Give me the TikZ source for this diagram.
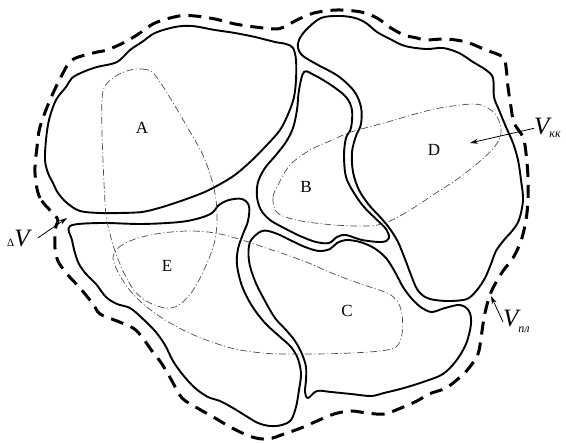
\documentclass[tikz,border=0pt]{standalone}
\usepackage{fontspec}
\setmainfont{Liberation Serif}
\usetikzlibrary{arrows.meta}
\begin{document}
\begin{tikzpicture}[x=1pt,y=-1pt,
  grain/.style={line width=1.9pt,line join=round},
  shell/.style={line width=3pt,dash pattern=on 13pt off 8pt},
  core/.style={line width=0.7pt,black!70,dash pattern=on 7pt off 2.5pt on 1pt off 2.5pt},
  lbl/.style={font=\fontsize{17}{20}\selectfont,inner sep=0pt},
  vlbl/.style={anchor=base west,inner sep=0pt},
  pin/.style={line width=0.8pt,-{Stealth[length=8pt,width=5pt]}}]
\useasboundingbox (0,0) rectangle (566,443);

\draw[shell] plot[smooth cycle,tension=0.55] coordinates {
  (57,218) (40,198) (35,173) (37,147) (40,127) (50,100) (62,75) (72,60) (93,53)
  (107,50) (123,43) (137,35) (155,23) (179,16) (195,16) (215,19) (235,24) (255,27)
  (275,29) (284,27) (297,20) (314,13) (337,10) (361,12) (377,18) (391,28) (404,35)
  (417,38) (426,40) (446,39) (466,42) (486,50) (503,57) (506,67) (508,87) (511,107)
  (514,123) (523,137) (526,153) (528,177) (528,200) (526,220) (521,241) (513,258)
  (503,271) (493,288) (488,301) (484,318) (481,338) (478,354) (469,368) (459,378)
  (446,388) (429,394) (417,401) (401,408) (384,414) (367,413) (351,411) (334,414)
  (317,421) (301,428) (284,434) (268,439) (252,437) (232,428) (215,418) (199,409)
  (182,398) (172,381) (162,364) (152,351) (142,337) (133,328) (117,321) (100,314)
  (93,304) (80,288) (67,274) (58,261) (55,248) (55,236) (56,226)};

\draw[grain] plot[smooth cycle,tension=0.55] coordinates {
  (142,42) (155,33) (175,27) (192,26) (215,30) (235,33) (255,37) (275,42) (286,44)
  (293,48) (296,60) (296,80) (294,97) (289,112) (280,130) (265,147) (249,163)
  (232,177) (209,190) (192,197) (175,203) (159,208) (142,212) (120,213) (100,213)
  (80,211) (67,203) (58,193) (53,183) (48,173) (45,160) (46,140) (49,120) (56,100)
  (66,87) (72,78) (83,72) (97,67) (117,62) (130,50)};

\draw[grain] plot[smooth cycle,tension=0.55] coordinates {
  (304,72) (314,75) (331,85) (346,97) (352,110) (351,128) (346,138) (344,155)
  (346,177) (354,193) (364,207) (376,219) (386,229) (389,238) (382,242) (362,240)
  (346,235) (337,237) (329,243) (316,242) (300,236) (284,228) (270,220) (261,210)
  (257,197) (258,182) (265,168) (276,155) (286,142) (293,128) (297,110) (299,90)};

\draw[grain] plot[smooth cycle,tension=0.55] coordinates {
  (299,40) (306,30) (321,18) (340,16) (355,18) (366,23) (377,32) (390,39) (405,46)
  (426,49) (443,48) (459,53) (473,62) (486,70) (493,78) (494,97) (499,110) (506,127)
  (513,143) (518,160) (521,180) (523,200) (519,220) (512,231) (504,240) (496,251)
  (491,264) (485,278) (477,290) (467,299) (450,301) (435,300) (425,297) (417,289)
  (411,275) (405,259) (398,242) (390,229) (381,218) (369,205) (359,190) (353,172)
  (352,152) (356,136) (361,124) (361,107) (354,91) (338,76) (318,65) (303,56) (298,48)};

\draw[grain] plot[smooth cycle,tension=0.55] coordinates {
  (262,231) (275,233) (290,240) (305,247) (319,251) (330,249) (337,243) (346,240)
  (360,242) (374,248) (386,258) (395,272) (403,287) (412,299) (422,308) (432,312)
  (445,308) (460,305) (469,311) (471,324) (466,344) (456,361) (443,374) (426,381)
  (404,388) (384,393) (371,396) (351,394) (331,392) (317,391) (308,398) (305,392)
  (306,380) (306,367) (302,354) (295,341) (286,330) (275,318) (265,301) (255,281)
  (249,261) (250,242)};

\draw[grain] plot[smooth cycle,tension=0.55] coordinates {
  (70,226) (100,223) (142,224) (180,222) (200,218) (212,213) (219,205) (229,200)
  (242,199) (249,206) (248,221) (243,234) (238,249) (237,265) (242,286) (252,306)
  (265,323) (279,336) (291,347) (298,359) (301,374) (299,390) (296,407) (291,420)
  (282,425) (270,426) (258,423) (246,416) (233,408) (220,401) (208,397) (195,388)
  (183,375) (173,361) (165,345) (155,331) (142,318) (130,308) (117,304) (106,297)
  (96,284) (86,274) (79,264) (75,253) (72,240)};

\draw[core] plot[smooth cycle,tension=0.55] coordinates {
  (130,70) (142,69) (152,72) (162,85) (175,106) (189,130) (202,153) (211,177)
  (216,200) (217,222) (215,240) (210,256) (203,272) (194,289) (184,301) (175,307)
  (165,308) (152,304) (142,298) (133,289) (123,271) (115,251) (110,234) (106,215)
  (104,183) (102,133) (102,100) (105,86) (116,76)};

\draw[core] plot[smooth cycle,tension=0.55] coordinates {
  (113,258) (118,248) (130,241) (142,237) (162,233) (189,231) (215,233) (242,240)
  (269,249) (290,256) (311,264) (334,274) (361,284) (387,293) (397,301) (402,314)
  (402,334) (396,347) (380,351) (351,353) (317,354) (284,354) (262,353) (235,349)
  (209,341) (185,331) (162,318) (142,303) (128,288) (118,272)};

\draw[core] plot[smooth cycle,tension=0.55] coordinates {
  (275,210) (273,197) (278,185) (290,165) (310,150) (330,141) (351,132) (384,123)
  (426,111) (446,107) (473,104) (486,107) (496,115) (501,128) (499,140) (489,153)
  (473,167) (456,180) (436,193) (407,212) (385,223) (367,226) (334,225) (301,221)
  (283,216)};

\node[lbl] (a) at (142,128) {A};
\node[lbl] (b) at (306,187) {B};
\node[lbl] (c) at (347,311) {C};
\node[lbl] (d) at (434,150) {D};
\node[lbl] (e) at (167,266) {E};

\node[vlbl] (vkk) at (534,135) {\fontsize{25}{25}\selectfont\itshape V\raisebox{-3pt}{\fontsize{12}{12}\selectfont кк}};
\node[vlbl] (vpl) at (503,327) {\fontsize{25}{25}\selectfont\itshape V\raisebox{-6pt}{\fontsize{12}{12}\selectfont пл}};
\node[vlbl] (dv) at (7,247) {{\fontsize{11}{11}\selectfont Δ}\fontsize{25}{25}\selectfont\itshape V};

\coordinate (vkktip) at (470,143);
\coordinate (vpltip) at (491,296);
\coordinate (dvtip) at (67,218);
\draw[pin] (vkk.west) -- (vkktip);
\draw[pin] (vpl.west) -- (vpltip);
\draw[pin] (dv.east) ++(8,-1) -- (dvtip);
\end{tikzpicture}
\end{document}
